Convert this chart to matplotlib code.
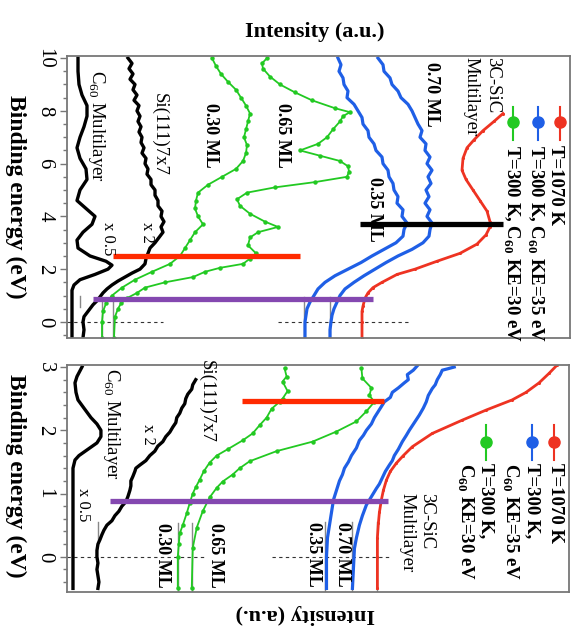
import matplotlib
matplotlib.use("Agg")
import matplotlib.pyplot as plt

plt.rcParams['font.family'] = ['Liberation Serif', 'DejaVu Serif']
plt.rcParams['mathtext.fontset'] = 'custom'
plt.rcParams['mathtext.rm'] = 'Liberation Serif'
plt.rcParams['mathtext.bf'] = 'Liberation Serif:bold'

RED = '#ee3322'
BLUE = '#1f5fe6'
GREEN = '#22c922'
HRED = '#ff2a00'
PURPLE = '#8448b0'

# ---------------- top panel data (binding energy eV, intensity a.u.) --------
c60_top_E = [10.0, 9.5, 9.0, 8.6, 8.2, 7.8, 7.4, 7.0, 6.6, 6.2, 5.8, 5.4, 5.0, 4.6, 4.3, 4.0,
             3.7, 3.4, 3.1, 2.8, 2.5, 2.3, 2.15, 2.0, 1.8, 1.6, 1.4, 1.2, 1.0, 0.5, 0.0, -0.6]
c60_top_I = [78, 78, 79, 82, 87, 87, 84, 80, 77, 80, 86, 87, 80, 77, 86, 95,
             92, 83, 77, 78, 90, 106, 112, 108, 95, 80, 74, 72, 72, 72, 72, 72]

si_top_E = [10.0, 9.8, 9.6, 9.4, 9.2, 9.0, 8.8, 8.6, 8.4, 8.2, 8.0, 7.8, 7.6, 7.4, 7.2, 7.0,
            6.8, 6.6, 6.4, 6.2, 6.0, 5.8, 5.6, 5.4, 5.2, 5.0, 4.8, 4.6, 4.4, 4.2, 4.0, 3.8,
            3.6, 3.4, 3.2, 3.0, 2.8, 2.6, 2.4, 2.2, 2.0, 1.85, 1.7, 1.55, 1.4, 1.25, 1.1,
            0.95, 0.8, 0.65, 0.5, 0.35, 0.2, 0.0, -0.3, -0.6]
si_top_I = [128, 132, 129, 133, 130, 135, 133, 137, 134, 139, 137, 140, 138, 141, 139, 142,
            141, 144, 142, 146, 145, 148, 147, 151, 151, 155, 155, 158, 158, 162, 161, 164,
            161, 163, 159, 155, 150, 148, 146, 145, 140, 132, 125, 118, 112, 107, 103,
            100, 97, 93, 90, 87, 84, 83, 84, 83]

ml030_top_E = [10.0, 9.7, 9.4, 9.1, 8.8, 8.5, 8.2, 7.9, 7.6, 7.3, 7.0, 6.7, 6.4, 6.1, 5.8, 5.5,
               5.2, 4.9, 4.6, 4.3, 4.0, 3.7, 3.4, 3.1, 2.8, 2.5, 2.2, 1.9, 1.6, 1.3, 1.0, 0.7,
               0.4, 0.0, -0.6]
ml030_top_I = [212, 216, 221, 228, 236, 241, 246, 250, 248, 246, 244, 247, 246, 243, 236, 222,
               208, 198, 196, 195, 198, 203, 195, 190, 185, 180, 170, 152, 135, 122, 112, 106,
               103, 102, 102]

ml065_top_E = [10.0, 9.8, 9.6, 9.3, 9.0, 8.7, 8.4, 8.1, 7.95, 7.8, 7.6, 7.3, 7.0, 6.75, 6.5,
               6.3, 6.1, 5.9, 5.7, 5.5, 5.3, 5.1, 4.9, 4.65, 4.4, 4.1, 3.8, 3.6, 3.4, 3.2,
               2.9, 2.6, 2.4, 2.2, 2.05, 1.9, 1.7, 1.5, 1.3, 1.1, 0.9, 0.7, 0.5, 0.2, -0.6]
ml065_top_I = [267, 262, 263, 270, 280, 295, 312, 335, 350, 343, 340, 333, 327, 318, 300,
               320, 340, 348, 349, 347, 315, 275, 247, 237, 240, 250, 265, 278, 258, 250,
               248, 256, 250, 243, 220, 205, 193, 165, 145, 137, 127, 121, 118, 115, 114]

ml035_top_E = [10.0, 9.75, 9.5, 9.25, 9.0, 8.75, 8.5, 8.25, 8.0, 7.75, 7.5, 7.25, 7.0, 6.75,
               6.5, 6.25, 6.0, 5.75, 5.5, 5.25, 5.0, 4.75, 4.5, 4.25, 4.0, 3.75, 3.5, 3.25,
               3.0, 2.75, 2.5, 2.25, 2.0, 1.75, 1.5, 1.25, 1.0, 0.75, 0.5, 0.25, 0.0, -0.3,
               -0.6]
ml035_top_I = [338, 341, 339, 343, 344, 348, 347, 354, 358, 362, 363, 368, 369, 374,
               376, 382, 383, 388, 389, 393, 394, 398, 397, 403, 402, 407, 404, 403,
               396, 384, 372, 361, 348, 335, 325, 318, 314, 310, 307, 306, 305, 305,
               305]

ml070_top_E = ml035_top_E
ml070_top_I = [378, 383, 384, 390, 392, 398, 401, 408, 412, 415, 418, 422, 420, 426,
               425, 430, 427, 432, 428, 431, 426, 429, 425, 430, 427, 432, 430, 429,
               423, 412, 398, 386, 375, 364, 354, 345, 340, 337, 334, 332, 331, 330,
               330]

sic_top_E = [7.9, 7.6, 7.25, 6.9, 6.6, 6.2, 5.75, 5.4, 5.0, 4.6, 4.2, 3.8, 3.6, 3.3, 2.95,
             2.6, 2.3, 2.0, 1.8, 1.5, 1.3, 1.1, 0.9, 0.6, 0.4, 0.0, -0.6]
sic_top_I = [503, 494, 483, 474, 467, 463, 462, 466, 473, 480, 487, 490, 490, 486, 477,
             460, 437, 415, 397, 382, 373, 368, 365, 363, 362, 362, 362]

# ---------------- bottom panel data ----------------
c60_bot_E = [3.0, 2.85, 2.75, 2.6, 2.48, 2.35, 2.2, 2.1, 2.0, 1.9, 1.8, 1.7, 1.6, 1.53, 1.4,
             1.0, 0.5, 0.0, -0.5]
c60_bot_I = [82, 77, 75, 76, 78, 84, 91, 97, 101, 101, 97, 88, 79, 75, 73,
             73, 73, 73, 73]

si_bot_E = [2.8, 2.72, 2.65, 2.57, 2.5, 2.42, 2.35, 2.27, 2.2, 2.12, 2.05, 1.97, 1.9, 1.82,
            1.75, 1.67, 1.6, 1.52, 1.45, 1.4, 1.35, 1.27, 1.2, 1.12, 1.05, 0.95, 0.87, 0.8,
            0.72, 0.65, 0.57, 0.5, 0.42, 0.35, 0.27, 0.2, 0.1, 0.0, -0.1, -0.2, -0.3, -0.4,
            -0.5]
si_bot_I = [196, 193, 192, 188, 186, 185, 182, 180, 177, 176, 173, 170, 166, 163,
            158, 155, 150, 146, 140, 136, 135, 133, 131, 131, 130, 128, 126, 122,
            119, 115, 112, 107, 104, 102, 100, 98, 97, 97, 98, 97, 98, 99,
            98]

ml030_bot_E = [2.98, 2.85, 2.77, 2.62, 2.5, 2.45, 2.34, 2.2, 2.08, 1.95, 1.84, 1.7, 1.6,
               1.49, 1.35, 1.22, 1.1, 1.0, 0.85, 0.69, 0.5, 0.37, 0.2, 0.0, -0.5]
ml030_bot_I = [285, 287, 283, 288, 283, 280, 272, 267, 260, 253, 243, 228, 217,
               210, 204, 200, 196, 193, 190, 187, 183, 180, 179, 178, 178]

ml065_bot_E = [2.98, 2.82, 2.67, 2.55, 2.45, 2.3, 2.14, 1.98, 1.82, 1.67, 1.51, 1.4, 1.3,
               1.19, 1.09, 0.94, 0.72, 0.46, 0.14, -0.5]
ml065_bot_I = [362, 363, 372, 370, 375, 367, 357, 337, 313, 277, 250, 240, 233,
               223, 217, 210, 203, 197, 193, 192]

ml035_bot_E = [3.02, 2.95, 2.88, 2.8, 2.75, 2.67, 2.6, 2.52, 2.45, 2.35, 2.2, 2.1, 2.0, 1.92,
               1.84, 1.72, 1.6, 1.5, 1.4, 1.3, 1.2, 1.1, 1.0, 0.9, 0.8, 0.6, 0.3, 0.0, -0.5]
ml035_bot_I = [418, 414, 408, 409, 405, 399, 393, 391, 385, 381, 375, 372, 367, 364,
               360, 357, 352, 349, 345, 343, 340, 338, 336, 334, 333, 331, 328, 327, 327]

ml070_bot_E = [3.0, 2.97, 2.95, 2.88, 2.8, 2.72, 2.66, 2.55, 2.45, 2.35, 2.24, 2.12, 2.0,
               1.92, 1.82, 1.7, 1.6, 1.52, 1.45, 1.35, 1.25, 1.15, 1.08, 0.95, 0.82, 0.65,
               0.5, 0.3, 0.13, -0.5]
ml070_bot_I = [455, 448, 443, 441, 438, 436, 433, 429, 427, 424, 420, 415, 410,
               407, 403, 399, 395, 393, 390, 386, 383, 380, 377, 372, 367, 363,
               360, 357, 355, 353]

sic_bot_E = [3.03, 2.9, 2.75, 2.6, 2.48, 2.32, 2.16, 1.95, 1.74, 1.6, 1.48, 1.35, 1.21,
             1.05, 0.9, 0.7, 0.53, 0.3, 0.0, -0.5]
sic_bot_I = [558, 550, 540, 527, 513, 487, 463, 433, 413, 404, 397, 391, 387,
             384, 382, 380, 379, 378, 378, 378]

top_ticks = [0, 2, 4, 6, 8, 10]
top_ticklabels = ['0', '2', '4', '6', '8', '10']
bot_ticks = [0, 1, 2, 3]
bot_ticklabels = ['0', '1', '2', '3']

fig = plt.figure(figsize=(5.78, 6.40), dpi=100)
ax1 = fig.add_axes([67/578, 1-338/640, 503/578, 282/640])
ax2 = fig.add_axes([67/578, 1-592/640, 502/578, 227.5/640])


def style(ax, ylim, ticks, labels, minor):
    ax.set_xlim(67, 570)
    ax.set_ylim(*ylim)
    ax.set_xticks([])
    ax.set_yticks(ticks)
    ax.set_yticklabels(labels, rotation=-90, va='center', fontsize=15)
    ax.set_yticks(minor, minor=True)
    ax.tick_params(axis='y', which='major', direction='out', length=5, width=1,
                   color='#777777', pad=4)
    ax.tick_params(axis='y', which='minor', direction='out', length=3, width=1,
                   color='#777777')
    for s in ax.spines.values():
        s.set_color('#777777')
        s.set_linewidth(1.3)


style(ax1, (-0.61, 10.08), top_ticks, top_ticklabels,
      [x * 0.5 - 0.5 for x in range(22)])
style(ax2, (-0.557, 3.04), bot_ticks, bot_ticklabels,
      [round(x * 0.2 - 0.4, 2) for x in range(18)])

GRAY = '#888888'


def draw(ax, data, zero_segs, markers):
    for (a, b) in zero_segs:
        ax.plot([a, b], [0, 0], ls=(0, (3, 3)), color='#333333', lw=0.8)
    for (x, e0, e1) in markers:
        ax.plot([x, x], [e0, e1], color=GRAY, lw=1.0)
    for I, E, c, kind in data:
        if kind == 'black':
            ax.plot(I, E, color='black', lw=2.4, solid_joinstyle='round')
        elif kind == 'green':
            ax.plot(I, E, color=c, lw=1.3, marker='o', ms=2.2, mec=c)
        elif kind == 'blue':
            ax.plot(I, E, color=c, lw=2.3)
        else:
            ax.plot(I, E, color=c, lw=2.0, marker='o', ms=1.2)


draw(ax1, [(c60_top_I, c60_top_E, 'black', 'black'),
           (si_top_I, si_top_E, 'black', 'black'),
           (ml030_top_I, ml030_top_E, GREEN, 'green'),
           (ml065_top_I, ml065_top_E, GREEN, 'green'),
           (ml035_top_I, ml035_top_E, BLUE, 'blue'),
           (ml070_top_I, ml070_top_E, BLUE, 'blue'),
           (sic_top_I, sic_top_E, RED, 'red')],
     [(67, 163), (278, 410)],
     [(80, 1.0, 0.55), (102, 0.75, -0.61), (113, 0.75, -0.61),
      (304, 0.95, -0.61), (330, 0.95, -0.61)])

draw(ax2, [(c60_bot_I, c60_bot_E, 'black', 'black'),
           (si_bot_I, si_bot_E, 'black', 'black'),
           (ml030_bot_I, ml030_bot_E, GREEN, 'green'),
           (ml065_bot_I, ml065_bot_E, GREEN, 'green'),
           (ml035_bot_I, ml035_bot_E, BLUE, 'blue'),
           (ml070_bot_I, ml070_bot_E, BLUE, 'blue'),
           (sic_bot_I, sic_bot_E, RED, 'red')],
     [(67, 207), (272, 390)],
     [(98, 0.55, 0.25), (178, 0.54, -0.557), (192, 0.54, -0.557),
      (326, 0.55, -0.557), (353, 0.55, -0.557), (378, 0.55, -0.557)])

# horizontal marker bars
ax1.plot([113, 300], [2.51, 2.51], color=HRED, lw=3.8, solid_capstyle='butt')
ax1.plot([360, 503], [3.70, 3.70], color='black', lw=3.8, solid_capstyle='butt')
ax1.plot([93, 373], [0.86, 0.86], color=PURPLE, lw=3.8, solid_capstyle='butt')
ax2.plot([242, 385], [2.46, 2.46], color=HRED, lw=3.8, solid_capstyle='butt')
ax2.plot([110, 389], [0.88, 0.88], color=PURPLE, lw=3.8, solid_capstyle='butt')


def rtext(ax, x, y, s, size=13, bold=False, va='top'):
    ax.text(x, y, s, rotation=270, ha='center', va=va, fontsize=size,
            fontweight='bold' if bold else 'normal', clip_on=False)


# top labels
rtext(ax1, 96, 9.55, 'C$_{60}$ Multilayer', 13.5)
rtext(ax1, 159, 8.67, 'Si(111)7x7', 13.5)
rtext(ax1, 147, 3.41, 'x 2', 12, va='center')
rtext(ax1, 108, 3.14, 'x 0.5', 12, va='center')
rtext(ax1, 211, 8.3, '0.30 ML', 13, True)
rtext(ax1, 283, 8.3, '0.65 ML', 13, True)
rtext(ax1, 375, 5.49, '0.35 ML', 13, True)
rtext(ax1, 432, 9.85, '0.70 ML', 13, True)
rtext(ax1, 493, 10.04, '3C-SiC', 13.5)
rtext(ax1, 471, 10.04, 'Multilayer', 13.5)
for x, c in [(560, RED), (538, BLUE), (513, GREEN)]:
    ax1.plot([x, x], [8.14, 6.89], color=c, lw=1.5, clip_on=False)
    ax1.plot([x], [7.58], marker='o', ms=8, color=c, clip_on=False)
rtext(ax1, 556, 6.70, 'T=1070 K', 13.5, True)
rtext(ax1, 535, 6.70, r'T=300 K, C$_{\mathbf{60}}$ KE=35 eV', 13.5, True)
rtext(ax1, 511, 6.70, r'T=300 K, C$_{\mathbf{60}}$ KE=30 eV', 13.5, True)

# bottom labels
rtext(ax2, 112, 2.99, 'C$_{60}$ Multilayer', 13.5)
rtext(ax2, 207, 3.11, 'Si(111)7x7', 13.5)
rtext(ax2, 148, 1.93, 'x 2', 12, va='center')
rtext(ax2, 83, 0.82, 'x 0.5', 12, va='center')
rtext(ax2, 163, 0.54, '0.30 ML', 13, True)
rtext(ax2, 216, 0.54, '0.65 ML', 13, True)
rtext(ax2, 314, 0.55, '0.35 ML', 13, True)
rtext(ax2, 343, 0.55, '0.70 ML', 13, True)
rtext(ax2, 427, 1.01, '3C-SiC', 13.5)
rtext(ax2, 408, 1.01, 'Multilayer', 13.5)
for x, c in [(555, RED), (533, BLUE), (487, GREEN)]:
    ax2.plot([x, x], [2.09, 1.53], color=c, lw=1.5, clip_on=False)
    ax2.plot([x], [1.82], marker='o', ms=8, color=c, clip_on=False)
rtext(ax2, 556, 1.49, 'T=1070 K', 13.5, True)
rtext(ax2, 533, 1.49, 'T=300 K,', 13.5, True)
rtext(ax2, 511, 1.49, r'C$_{\mathbf{60}}$ KE=35 eV', 13.5, True)
rtext(ax2, 487, 1.49, 'T=300 K,', 13.5, True)
rtext(ax2, 466, 1.49, r'C$_{\mathbf{60}}$ KE=30 eV', 13.5, True)

# axis titles
fig.text(315/578, 1-32/640, 'Intensity (a.u.)', ha='center', va='center',
         fontsize=16, fontweight='bold')
fig.text(305/578, 1-614/640, 'Intensity (a.u.)', ha='center', va='center',
         fontsize=16, fontweight='bold', rotation=180)
fig.text(16/578, 1-197/640, 'Binding energy (eV)', ha='center', va='center',
         fontsize=17, fontweight='bold', rotation=270)
fig.text(16/578, 1-476/640, 'Binding energy (eV)', ha='center', va='center',
         fontsize=17, fontweight='bold', rotation=270)

fig.savefig('out.png', dpi=100)
